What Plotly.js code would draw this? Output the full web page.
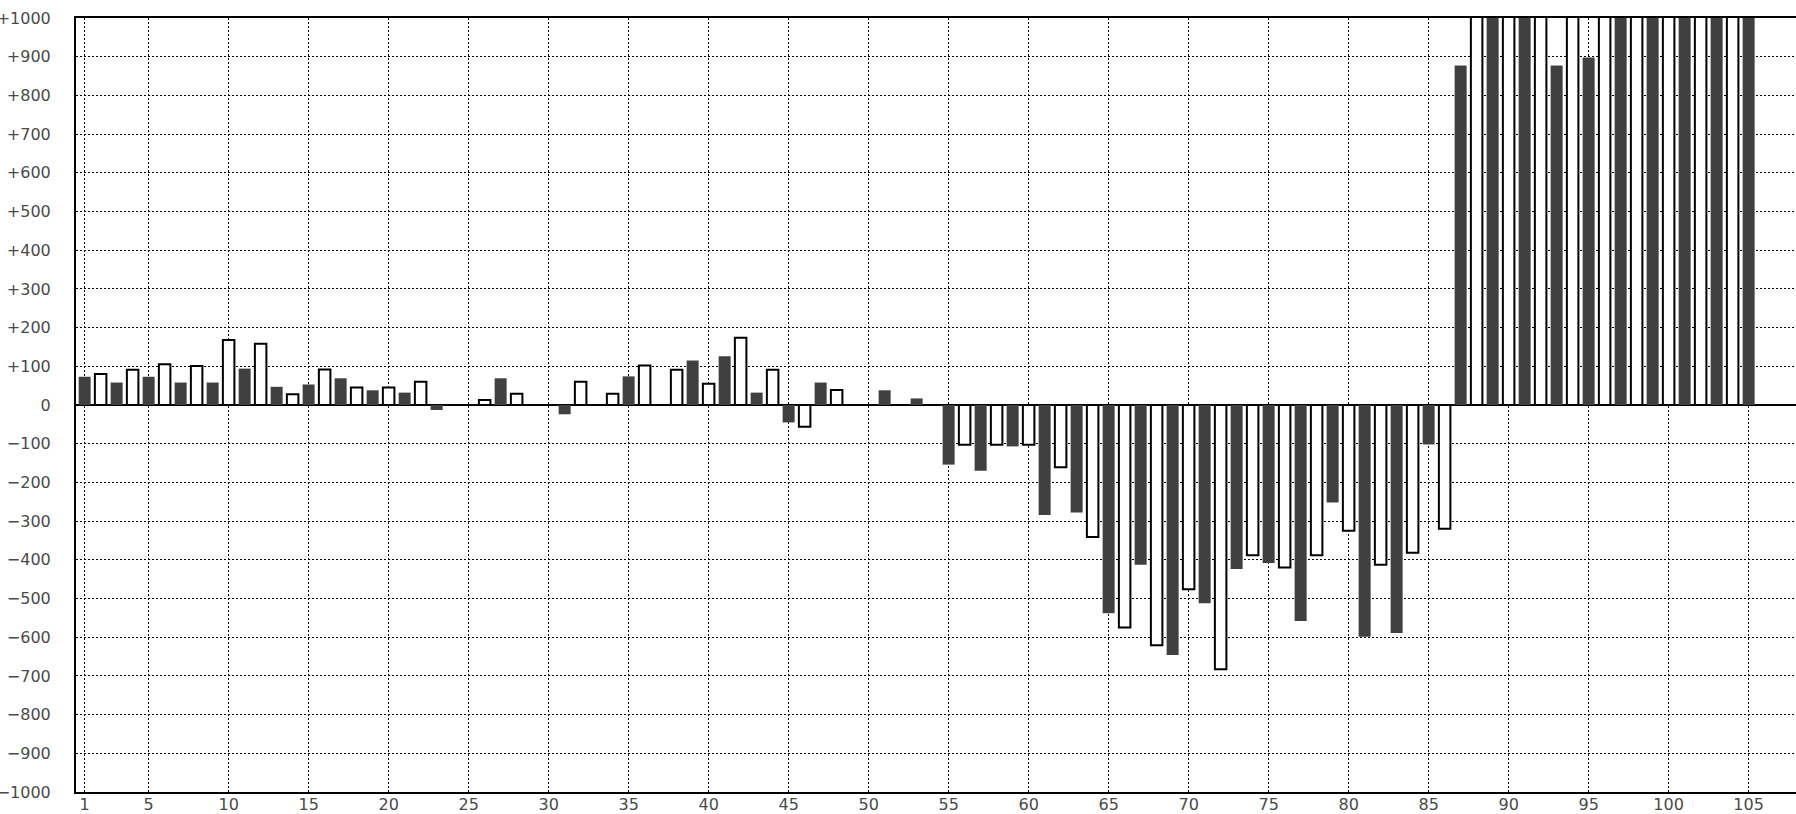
<!DOCTYPE html>
<html>
<head>
<meta charset="utf-8">
<script src="https://cdn.plot.ly/plotly-3.0.1.min.js"></script>
<style>
  html, body { margin: 0; padding: 0; background: #fff; overflow: hidden; }
  #chart { width: 1796px; height: 814px; }
</style>
</head>
<body>
<div id="chart"></div>
<script>
// Bar positions 1..107 (odd = dark bars, even = white bars)
const positions = [
  1,2,3,4,5,6,7,8,9,10,11,12,13,14,15,16,17,18,19,20,
  21,22,23,24,25,26,27,28,29,30,31,32,33,34,35,36,37,38,39,40,
  41,42,43,44,45,46,47,48,49,50,51,52,53,54,55,56,57,58,59,60,
  61,62,63,64,65,66,67,68,69,70,71,72,73,74,75,76,77,78,79,80,
  81,82,83,84,85,86,87,88,89,90,91,92,93,94,95,96,97,98,99,100,
  101,102,103,104,105,106,107
];
// Values (bars above +1000 are cut off at the top)
const values = [
  73, 80, 58, 91, 73, 105, 58, 101, 58, 168,
  94, 158, 47, 28, 53, 92, 69, 45, 38, 45,
  32, 60, -13, null, null, 13, 69, 29, null, null,
  -24, 60, null, 29, 74, 102, null, 91, 115, 55,
  126, 174, 32, 91, -45, -56, 58, 39, null, null,
  38, null, 17, null, -154, -103, -170, -103, -107, -103,
  -284, -161, -278, -341, -538, -575, -413, -621, -646, -476,
  -512, -683, -424, -388, -408, -420, -558, -388, -252, -325,
  -599, -413, -589, -382, -102, -320, 877, 1100, 1100, 1100,
  1100, 1100, 877, 1100, 898, 1100, 1100, 1100, 1100, 1100,
  1100, 1100, 1100, 1100, 1100, null, null
];
const xTickVals = [1,5,10,15,20,25,30,35,40,45,50,55,60,65,70,75,80,85,90,95,100,105];
const xTickText = ["1","5","10","15","20","25","30","35","40","45","50","55","60","65","70","75","80","85","90","95","100","105"];
const yTickVals = [-1000,-900,-800,-700,-600,-500,-400,-300,-200,-100,0,100,200,300,400,500,600,700,800,900,1000];
const yTickText = ["\u22121000","\u2212900","\u2212800","\u2212700","\u2212600","\u2212500","\u2212400","\u2212300","\u2212200","\u2212100","0",
                   "+100","+200","+300","+400","+500","+600","+700","+800","+900","+1000"];

const darkX = [], darkY = [], lightX = [], lightY = [];
positions.forEach((p, i) => {
  if (p % 2 === 1) { darkX.push(p); darkY.push(values[i]); }
  else { lightX.push(p); lightY.push(values[i]); }
});

const tickFont = { family: "DejaVu Sans, sans-serif", size: 16, color: "#4a4a4a" };

const traces = [
  { type: "bar", x: darkX, y: darkY, width: 0.75,
    marker: { color: "#404040", line: { width: 0 } }, showlegend: false },
  { type: "bar", x: lightX, y: lightY, width: 0.72,
    marker: { color: "#ffffff", line: { color: "#000000", width: 2 } }, showlegend: false }
];

const layout = {
  width: 1796, height: 814,
  margin: { l: 76, r: 0, t: 18, b: 22, pad: 0 },
  paper_bgcolor: "#ffffff", plot_bgcolor: "#ffffff",
  barmode: "overlay",
  showlegend: false,
  xaxis: {
    range: [0.46, 107.96],
    tickmode: "array", tickvals: xTickVals, ticktext: xTickText,
    tickfont: tickFont, ticks: "", ticklabelstandoff: -3,
    showgrid: true, gridcolor: "#000000", gridwidth: 1, griddash: "2px,2px",
    showline: true, linecolor: "#000000", linewidth: 2, mirror: true,
    zeroline: false, fixedrange: true
  },
  yaxis: {
    range: [-1000, 1000],
    tickmode: "array", tickvals: yTickVals, ticktext: yTickText,
    tickfont: tickFont, ticks: "", ticklabelstandoff: 20,
    showgrid: true, gridcolor: "#000000", gridwidth: 1, griddash: "2px,2px",
    showline: true, linecolor: "#000000", linewidth: 2, mirror: false,
    zeroline: true, zerolinecolor: "#000000", zerolinewidth: 2, fixedrange: true
  }
};

Plotly.newPlot("chart", traces, layout, { staticPlot: true, displayModeBar: false });
</script>
</body>
</html>
